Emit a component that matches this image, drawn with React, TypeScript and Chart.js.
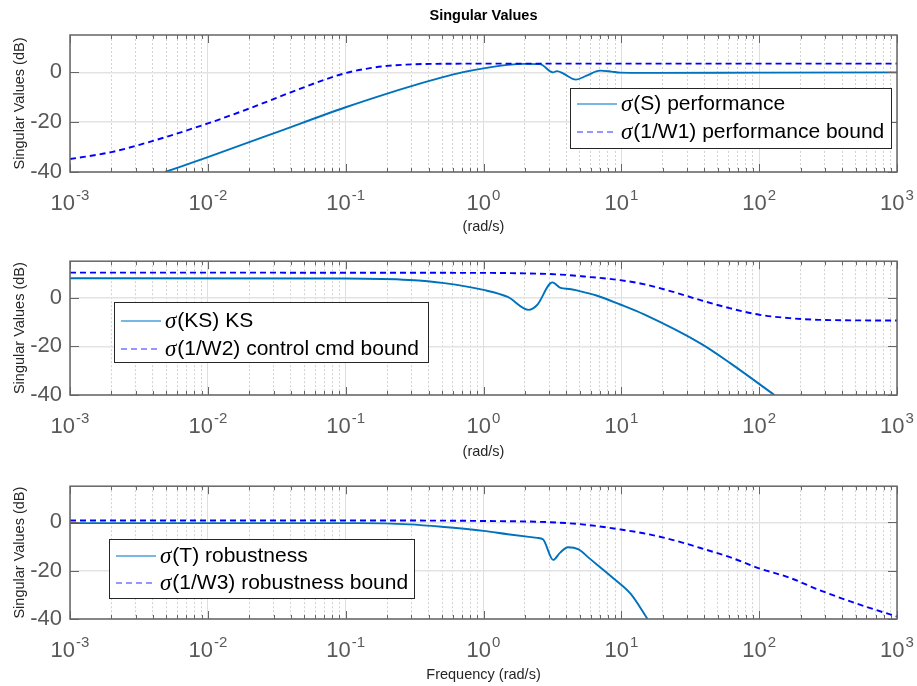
import React, { useEffect, useRef } from 'react';
import { Chart, registerables } from 'chart.js';

Chart.register(...registerables);

const FONT = "'Liberation Sans', Arial, Helvetica, sans-serif";
Chart.defaults.font.family = FONT;

// ---- axis ticks ----
const xTickValues = [1e-3, 1e-2, 1e-1, 1, 10, 100, 1000];
const xTickExponents = ['-3', '-2', '-1', '0', '1', '2', '3'];
const yTickValues = [-40, -20, 0];
const yTickLabels = ['-40', '-20', '0'];
const minorMultipliers = [1, 2, 3, 4, 5, 6, 7, 8, 9];

// ---- panel 1: sigma(S) and sigma(1/W1) ----
const sFreq = [0.0049, 0.01, 0.03, 0.1, 0.2, 0.3, 0.5, 0.7, 1.0, 1.5, 2.0, 2.57, 3.19, 3.41, 3.8, 4.69, 5.6, 7.0, 8.5, 9.8, 15, 100, 1000];
const sDb = [-40, -34, -24.5, -14, -8.5, -5.5, -2, 0, 1.6, 3.0, 3.4, 3.3, 0, 0.5, -0.5, -2.9, -1.3, 0.7, 0.3, -0.1, -0.2, -0.1, 0];
const w1Freq = [0.001, 0.002, 0.004, 0.01, 0.02, 0.04, 0.07, 0.1, 0.15, 0.2, 0.3, 0.5, 1, 1000];
const w1Db = [-34.8, -32, -27.5, -20.5, -14.5, -8, -3, -0.3, 1.7, 2.6, 3.2, 3.45, 3.5, 3.5];

// ---- panel 2: sigma(KS) and sigma(1/W2) ----
const ksFreq = [0.001, 0.1, 0.29, 0.52, 1.0, 1.5, 2.13, 2.45, 3.16, 3.63, 4.2, 4.9, 6.6, 9.8, 14.5, 38, 62, 129];
const ksDb = [8, 7.9, 7.3, 6, 3.2, 0.3, -5, -3, 6.3, 4.0, 3.6, 2.8, 0.9, -2.8, -6.8, -19, -27, -40];
const w2Freq = [0.001, 1.0, 2.0, 3.63, 5.4, 9.8, 14.5, 23.4, 38, 62, 100, 166, 270, 1000];
const w2Db = [10.3, 10.2, 10.0, 9.5, 8.7, 7.2, 5.6, 2.5, -1.1, -4.4, -7, -8.4, -9.1, -9.4];

// ---- panel 3: sigma(T) and sigma(1/W3) ----
const tFreq = [0.001, 0.126, 0.29, 0.52, 1.0, 1.5, 2.45, 2.7, 3.2, 3.6, 4.1, 4.9, 5.9, 8.7, 11.7, 15.5];
const tDb = [-0.3, -0.3, -0.8, -1.9, -3.5, -4.9, -6.4, -7.0, -15.5, -12.5, -10.3, -11.2, -15, -23, -29.6, -40];
const w3Freq = [0.001, 0.1, 1, 3, 5.4, 9.8, 14.5, 23.4, 38, 62, 100, 166, 270, 437, 708, 1000];
const w3Db = [0.8, 0.8, 0.6, 0.1, -0.9, -2.9, -4.5, -7.2, -10.7, -14.5, -19, -22.9, -27.9, -32.3, -36.3, -39];

// ---- legend labels ----
const legend1Labels = ['σ(S) performance', 'σ(1/W1) performance bound'];
const legend2Labels = ['σ(KS) KS', 'σ(1/W2) control cmd bound'];
const legend3Labels = ['σ(T) robustness', 'σ(1/W3) robustness bound'];

const SOLID = '#0072BD';
const DASHED = '#0000FF';
const AXIS = '#666666';
const TICK_TEXT = '#595959';

const allXTicks: number[] = [];
for (let e = -3; e <= 2; e++) {
  for (const m of minorMultipliers) allXTicks.push(m * Math.pow(10, e));
}
allXTicks.push(1000);

const isDecade = (v: any) =>
  typeof v === 'number' && v > 0 && Math.abs(Math.log10(v) - Math.round(Math.log10(v))) < 1e-6;

const toPts = (f: number[], d: number[]) => f.map((x, i) => ({ x, y: d[i] }));

function makeDecor(spec: any) {
  return {
    id: 'decor',
    afterDraw(chart: any) {
      const ctx = chart.ctx;
      const { left, right, top, bottom } = chart.chartArea;
      const xs = chart.scales.x;
      const ys = chart.scales.y;
      ctx.save();
      // inward tick marks
      ctx.strokeStyle = AXIS;
      ctx.lineWidth = 1;
      ctx.beginPath();
      for (const t of xs.ticks) {
        const px = Math.round(xs.getPixelForValue(t.value)) + 0.5;
        const len = isDecade(t.value) ? 8 : 4;
        ctx.moveTo(px, bottom);
        ctx.lineTo(px, bottom - len);
        ctx.moveTo(px, top);
        ctx.lineTo(px, top + len);
      }
      for (const v of yTickValues) {
        const py = Math.round(ys.getPixelForValue(v)) + 0.5;
        ctx.moveTo(left, py);
        ctx.lineTo(left + 9, py);
        ctx.moveTo(right, py);
        ctx.lineTo(right - 9, py);
      }
      ctx.stroke();
      // frame
      ctx.lineWidth = 1.5;
      ctx.strokeRect(left, top, right - left, bottom - top);

      // x tick labels: 10 with superscript exponent
      ctx.fillStyle = TICK_TEXT;
      ctx.textBaseline = 'alphabetic';
      ctx.textAlign = 'left';
      xTickValues.forEach((v, i) => {
        const px = xs.getPixelForValue(v);
        ctx.font = `22px ${FONT}`;
        const bw = ctx.measureText('10').width;
        ctx.font = `15px ${FONT}`;
        const ew = ctx.measureText(xTickExponents[i]).width;
        const x0 = px - (bw + ew + 1) / 2;
        ctx.font = `22px ${FONT}`;
        ctx.fillText('10', x0, bottom + 38);
        ctx.font = `15px ${FONT}`;
        ctx.fillText(xTickExponents[i], x0 + bw + 1, bottom + 28);
      });

      // legend box
      const L = spec.legend;
      ctx.fillStyle = '#ffffff';
      ctx.fillRect(L.x, L.y, L.w, L.h);
      ctx.strokeStyle = '#262626';
      ctx.lineWidth = 1;
      ctx.strokeRect(L.x + 0.5, L.y + 0.5, L.w, L.h);
      const sampleColors = ['#4a9fdb', '#7474ff'];
      const sampleDash = [[], [6, 4]];
      L.labels.forEach((label: string, i: number) => {
        const ry = L.y + L.rows[i];
        ctx.strokeStyle = sampleColors[i];
        ctx.lineWidth = 1.5;
        ctx.setLineDash(sampleDash[i]);
        ctx.beginPath();
        ctx.moveTo(L.x + 7, ry);
        ctx.lineTo(L.x + 47, ry);
        ctx.stroke();
        ctx.setLineDash([]);
        ctx.fillStyle = '#000000';
        ctx.textBaseline = 'middle';
        ctx.textAlign = 'left';
        const sym = label.charAt(0);
        const rest = label.slice(1);
        ctx.font = `italic 23px 'Liberation Serif', 'Times New Roman', serif`;
        ctx.fillText(sym, L.x + 51, ry + 1);
        const sw = ctx.measureText(sym).width;
        ctx.font = `21px ${FONT}`;
        ctx.fillText(rest, L.x + 51 + sw + 1, ry);
      });
      ctx.restore();
    },
  };
}

const panels = [
  {
    top: 0, height: 240, padTop: 0, axisH: 68, xTitlePad: 4.6, xTitle: '(rad/s)', title: 'Singular Values',
    solid: [sFreq, sDb], dashed: [w1Freq, w1Db],
    legend: { x: 570, y: 88, w: 321, h: 60, rows: [16, 44], labels: legend1Labels },
  },
  {
    top: 240, height: 225, padTop: 18, axisH: 70, xTitlePad: 4.6, xTitle: '(rad/s)', title: '',
    solid: [ksFreq, ksDb], dashed: [w2Freq, w2Db],
    legend: { x: 114, y: 62, w: 314, h: 60, rows: [19, 47], labels: legend2Labels },
  },
  {
    top: 465, height: 221, padTop: 17, axisH: 67, xTitlePad: 2.6, xTitle: 'Frequency (rad/s)', title: '',
    solid: [tFreq, tDb], dashed: [w3Freq, w3Db],
    legend: { x: 109, y: 74, w: 305, h: 59, rows: [17, 44], labels: legend3Labels },
  },
];

function Panel({ spec }: { spec: any }) {
  const ref = useRef<HTMLCanvasElement | null>(null);
  useEffect(() => {
    const canvas = ref.current;
    if (!canvas) return;
    const chart = new Chart(canvas, {
      type: 'line',
      data: {
        datasets: [
          {
            data: toPts(spec.solid[0], spec.solid[1]),
            borderColor: SOLID, borderWidth: 1.9, pointRadius: 0,
            cubicInterpolationMode: 'monotone', fill: false, order: 1,
          },
          {
            data: toPts(spec.dashed[0], spec.dashed[1]),
            borderColor: DASHED, borderWidth: 1.9, borderDash: [6, 4], pointRadius: 0,
            cubicInterpolationMode: 'monotone', fill: false, order: 0,
          },
        ],
      } as any,
      options: {
        responsive: false,
        animation: false,
        events: [],
        layout: { padding: { top: spec.padTop, right: 20, left: 0, bottom: 0 } },
        plugins: {
          legend: { display: false },
          tooltip: { enabled: false },
          title: spec.title
            ? {
                display: true, text: spec.title, fullSize: false, color: '#000000',
                font: { size: 14.5, weight: 'bold', family: FONT, lineHeight: 1.2 },
                padding: { top: 7.3, bottom: 10.3 },
              }
            : { display: false },
        },
        scales: {
          x: {
            type: 'logarithmic', min: 1e-3, max: 1e3,
            afterBuildTicks: (s: any) => {
              s.ticks = allXTicks.map((v) => ({ value: v, major: isDecade(v) }));
            },
            ticks: { display: false },
            grid: {
              drawTicks: false, lineWidth: 1,
              color: (c: any) => (isDecade(c.tick?.value) ? '#dedede' : '#d2d2d2'),
            },
            border: { display: false, dash: (c: any) => (isDecade(c.tick?.value) ? [] : [2, 2]) },
            title: {
              display: true, text: spec.xTitle, color: '#262626',
              font: { size: 14.5, family: FONT, lineHeight: 1.2 },
              padding: { top: 0, bottom: spec.xTitlePad },
            },
            afterFit: (s: any) => { s.height = spec.axisH; },
          },
          y: {
            min: -40, max: 15,
            afterBuildTicks: (s: any) => {
              s.ticks = yTickValues.map((v) => ({ value: v }));
            },
            ticks: {
              font: { size: 22, family: FONT }, color: TICK_TEXT, padding: 8,
              callback: (v: any) => yTickLabels[yTickValues.indexOf(Number(v))] ?? '',
            },
            grid: { drawTicks: false, color: '#e3e3e3', lineWidth: 1.5 },
            border: { display: false },
            title: {
              display: true, text: 'Singular Values (dB)', color: '#262626',
              font: { size: 14.5, family: FONT, lineHeight: 1.2 },
              padding: { top: 11.3, bottom: 0 },
            },
            afterFit: (s: any) => { s.width = 70; },
          },
        },
      } as any,
      plugins: [makeDecor(spec)],
    });
    return () => chart.destroy();
  }, [spec]);
  return (
    <canvas
      ref={ref}
      width={917}
      height={spec.height}
      style={{ position: 'absolute', left: 0, top: spec.top, width: 917, height: spec.height }}
    />
  );
}

export default function App() {
  return (
    <div style={{ position: 'absolute', left: 0, top: 0, width: 917, height: 686, background: '#ffffff' }}>
      {panels.map((p, i) => (
        <Panel key={i} spec={p} />
      ))}
    </div>
  );
}
